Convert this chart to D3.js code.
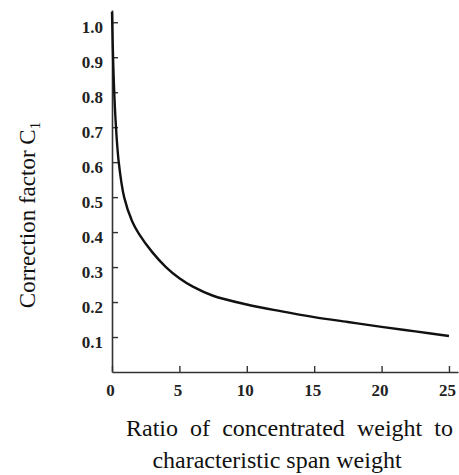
<!DOCTYPE html>
<html>
<head>
<meta charset="utf-8">
<script src="https://cdn.jsdelivr.net/npm/d3@7"></script>
<style>
  body { margin: 0; background: #fff; }
  svg { display: block; }
</style>
</head>
<body>
<svg id="chart" width="459" height="475"></svg>
<script>
// ratio of concentrated weight to characteristic span weight
var ratio  = [0, 0.1, 0.25, 0.5, 0.9, 1.5, 2, 3, 4, 5, 6, 7.5, 10, 12.5, 15, 17.5, 20, 22.5, 25];
// correction factor C1
var factor = [1.03, 0.87, 0.73, 0.60, 0.50, 0.43, 0.395, 0.342, 0.300, 0.268, 0.244, 0.218, 0.193, 0.174, 0.157, 0.143, 0.129, 0.116, 0.103];

var xTicks = [0, 5, 10, 15, 20, 25];
var yTicks = [0.1, 0.2, 0.3, 0.4, 0.5, 0.6, 0.7, 0.8, 0.9, 1.0];

var svg = d3.select('#chart');

var x = d3.scaleLinear().domain([0, 25.67]).range([112, 458]);
var y = d3.scaleLinear().domain([0, 1.035]).range([372, 10]);

var axisColor = '#333';
var serif = '"Liberation Serif", "Times New Roman", serif';

// y axis, ticks pointing inward
var gy = svg.append('g')
  .attr('transform', 'translate(112,0)')
  .call(d3.axisLeft(y)
    .tickValues(yTicks)
    .tickFormat(d3.format('.1f'))
    .tickSizeInner(-6)
    .tickSizeOuter(0)
    .tickPadding(9));
gy.select('.domain').attr('stroke', axisColor).attr('stroke-width', 1.6);
gy.selectAll('.tick line').attr('stroke', axisColor).attr('stroke-width', 1.4);
gy.selectAll('.tick text')
  .attr('dy', '0.6em')
  .style('font-family', serif)
  .style('font-weight', 'bold')
  .style('font-size', '17px')
  .attr('fill', '#222');

// x axis, ticks pointing inward
var gx = svg.append('g')
  .attr('transform', 'translate(0,372)')
  .call(d3.axisBottom(x)
    .tickValues(xTicks)
    .tickSizeInner(-6)
    .tickSizeOuter(0)
    .tickPadding(12));
gx.select('.domain').attr('stroke', axisColor).attr('stroke-width', 1.6);
gx.selectAll('.tick line').attr('stroke', axisColor).attr('stroke-width', 1.4);
gx.selectAll('.tick text')
  .attr('dx', '-2')
  .style('font-family', serif)
  .style('font-weight', 'bold')
  .style('font-size', '17px')
  .attr('fill', '#222');

// curve
var line = d3.line()
  .x(function (d, i) { return x(ratio[i]); })
  .y(function (d) { return y(d); })
  .curve(d3.curveCatmullRom.alpha(0.5));

svg.append('path')
  .datum(factor)
  .attr('d', line)
  .attr('fill', 'none')
  .attr('stroke', '#111')
  .attr('stroke-width', 2.4);

// y title
var yt = svg.append('text')
  .attr('transform', 'translate(35,215) rotate(-90)')
  .attr('text-anchor', 'middle')
  .style('font-family', serif)
  .style('font-size', '23px')
  .attr('fill', '#111');
yt.append('tspan').text('Correction factor C');
yt.append('tspan').attr('dy', 5).style('font-size', '15px').text('1');

// x title, first line justified
var xt1 = svg.append('text')
  .attr('x', 126)
  .attr('y', 436)
  .style('font-family', serif)
  .style('font-size', '24px')
  .attr('fill', '#111')
  .text('Ratio of concentrated weight to');
var w = xt1.node().getComputedTextLength();
xt1.attr('word-spacing', ((453 - 126) - w) / 4);

svg.append('text')
  .attr('x', 277)
  .attr('y', 468)
  .attr('text-anchor', 'middle')
  .style('font-family', serif)
  .style('font-size', '24px')
  .attr('fill', '#111')
  .text('characteristic span weight');
</script>
</body>
</html>
